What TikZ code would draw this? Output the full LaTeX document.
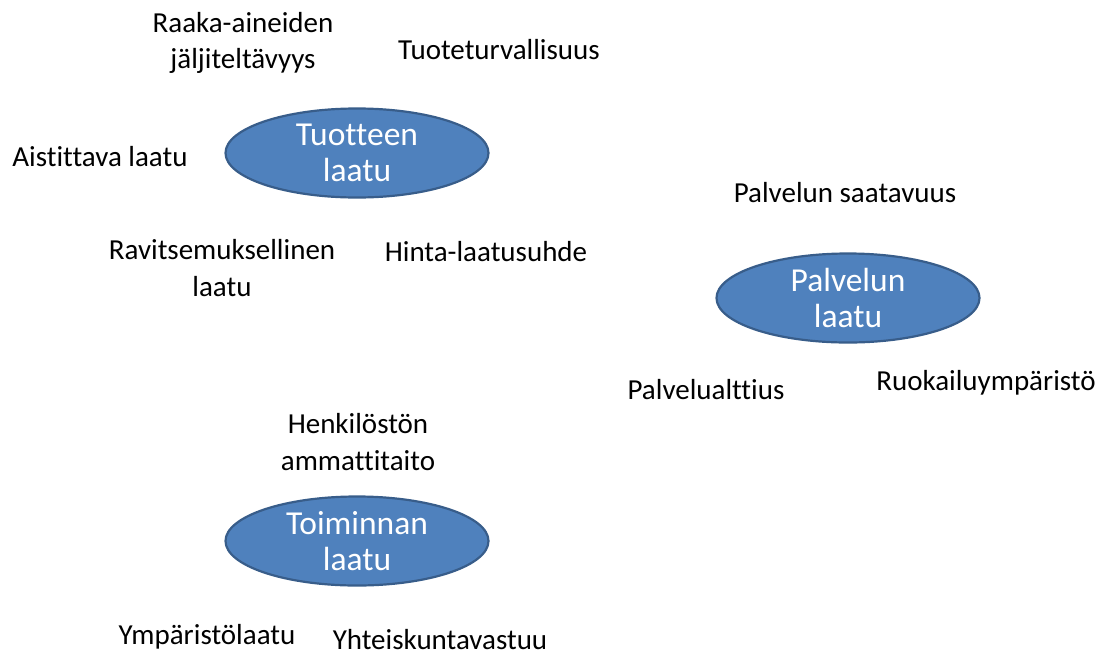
\documentclass[tikz,border=0pt]{standalone}
\usepackage{fontspec}
\setmainfont{Carlito}[Ligatures=NoCommon]
\usetikzlibrary{shapes.geometric}
\definecolor{qfill}{HTML}{4F81BD}
\definecolor{qline}{HTML}{385D8A}

\tikzset{
  quality/.style={ellipse,fill=qfill,draw=qline,line width=2.2pt,
    minimum width=263pt,minimum height=89pt,inner sep=0pt,
    text=white,align=center,font=\fontsize{33.5}{36}\selectfont},
  factor/.style={align=center,inner sep=0pt,text=black,
    font=\fontsize{29}{36.5}\selectfont}
}

\begin{document}
\begin{tikzpicture}[x=1pt,y=-1pt]
      \useasboundingbox (0,0) rectangle (1107,659);

      \node [quality] (T) at (357,153) {Tuotteen\\laatu};
      \node [quality] (P) at (848,298) {Palvelun\\laatu};
      \node [quality] (O) at (357,541) {Toiminnan\\laatu};

      \node [factor] (raaka) at (243,43) {Raaka-aineiden\\jäljiteltävyys};
      \node [factor] (turva) at (499,50) {Tuoteturvallisuus};
      \node [factor] (aisti) at (100,157) {Aistittava laatu};
      \node [factor] (ravit) at (222,268) {Ravitsemuksellinen\\laatu};
      \node [factor] (hinta) at (486,252) {Hinta-laatusuhde};

      \node [factor] (saata) at (845,193) {Palvelun saatavuus};
      \node [factor] (altt) at (706,390) {Palvelualttius};
      \node [factor] (ruoka) at (986,383) {Ruokailuympäristö};

      \node [factor] (henk) at (358,442) {Henkilöstön\\ammattitaito};
      \node [factor] (ymp) at (207,637) {Ympäristölaatu};
      \node [factor] (yht) at (440,640) {Yhteiskuntavastuu};
    \end{tikzpicture}
\end{document}
